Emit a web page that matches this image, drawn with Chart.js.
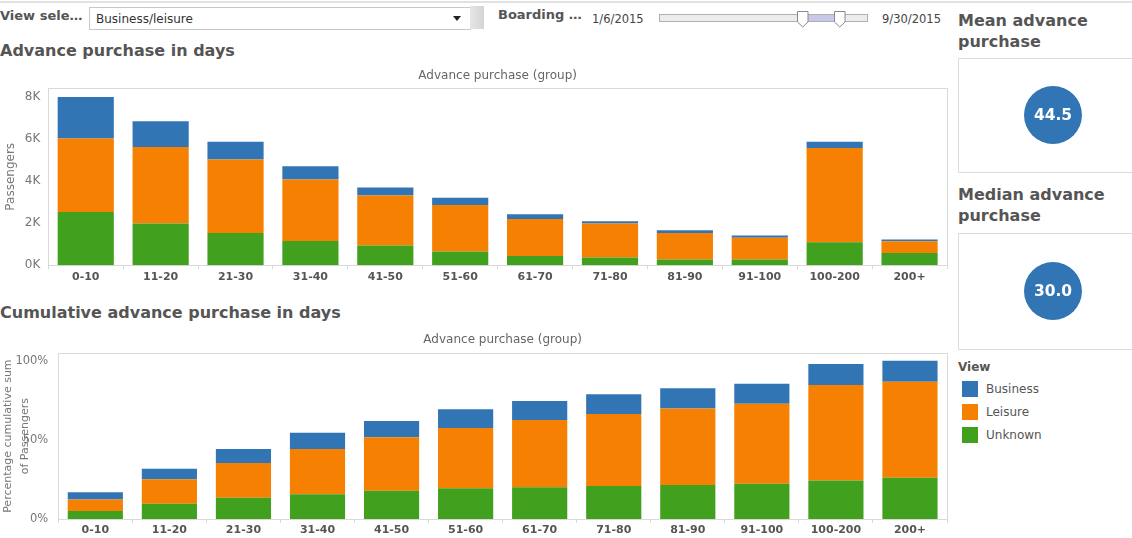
<!DOCTYPE html>
<html><head><meta charset="utf-8">
<script src="https://cdn.jsdelivr.net/npm/chart.js@4.4.1/dist/chart.umd.min.js"></script>
<style>
html,body{margin:0;padding:0;background:#fff;}
body{width:1132px;height:538px;overflow:hidden;position:relative;font-family:"DejaVu Sans",sans-serif;color:#555;}
.abs{position:absolute;white-space:nowrap;}
.h1{font-weight:bold;font-size:16px;color:#555;line-height:21.5px;}
.lbl{font-weight:bold;font-size:13px;line-height:16px;color:#555;}
.small{font-size:11.5px;line-height:14px;color:#444;}
.box{position:absolute;border:1px solid #dcdcdc;background:#fff;}
.sw{position:absolute;width:16px;height:16px;}
.leg{font-size:12px;line-height:16px;color:#555;}
canvas{position:absolute;}
</style></head>
<body>
<div class="abs" style="left:0;top:1px;width:1132px;height:2px;background:#e2e2e2;"></div>
<div class="abs lbl" style="left:0;top:7.5px;">View sele…</div>
<div class="box" style="left:89px;top:7px;width:380px;height:21px;border-color:#c8c8c8;"></div>
<div class="abs" style="left:96px;top:12px;font-size:12px;line-height:14px;color:#333;">Business/leisure</div>
<div class="abs" style="left:453px;top:16px;width:0;height:0;border-left:4.5px solid transparent;border-right:4.5px solid transparent;border-top:5px solid #222;"></div>
<div class="abs" style="left:470px;top:6px;width:14px;height:23px;background:linear-gradient(90deg,#e6e6e6,#d4d4d4);"></div>
<div class="abs lbl" style="left:498px;top:6.5px;">Boarding …</div>
<div class="abs small" style="left:592px;top:11.5px;">1/6/2015</div>
<div class="abs" style="left:659px;top:14px;width:207px;height:6px;border:1px solid #b0b0b0;background:#ececec;"></div>
<div class="abs" style="left:808px;top:15px;width:26px;height:6px;background:#c8c8ea;"></div>
<svg class="abs" style="left:796px;top:10px;" width="14" height="19"><path d="M1.5 1.5 H12 V12 L6.75 17 L1.5 12 Z" fill="#fff" stroke="#8a8a8a" stroke-width="1"/></svg>
<svg class="abs" style="left:833px;top:10px;" width="14" height="19"><path d="M1.5 1.5 H12 V12 L6.75 17 L1.5 12 Z" fill="#fff" stroke="#8a8a8a" stroke-width="1"/></svg>
<div class="abs small" style="left:882px;top:11.5px;">9/30/2015</div>

<div class="abs h1" style="left:0;top:39.5px;">Advance purchase in days</div>
<div class="abs h1" style="left:0;top:301.5px;">Cumulative advance purchase in days</div>

<div class="abs h1" style="left:958px;top:9.5px;">Mean advance<br>purchase</div>
<div class="box" style="left:958px;top:58px;width:200px;height:113px;"></div>
<div class="abs h1" style="left:958px;top:183.5px;">Median advance<br>purchase</div>
<div class="box" style="left:958px;top:233px;width:200px;height:115px;"></div>

<div class="abs" style="left:958px;top:360px;font-weight:bold;font-size:12px;line-height:14px;color:#555;">View</div>
<div class="sw" style="left:962px;top:380.5px;background:#3275b5;"></div>
<div class="abs leg" style="left:986px;top:381px;">Business</div>
<div class="sw" style="left:962px;top:403.5px;background:#f58002;"></div>
<div class="abs leg" style="left:986px;top:404px;">Leisure</div>
<div class="sw" style="left:962px;top:426.5px;background:#42a01f;"></div>
<div class="abs leg" style="left:986px;top:427px;">Unknown</div>

<canvas id="c1" width="950" height="230" style="left:0;top:60px;"></canvas>
<canvas id="c2" width="950" height="213" style="left:0;top:325px;"></canvas>
<canvas id="k1" width="188" height="112" style="left:959px;top:59px;"></canvas>
<canvas id="k2" width="188" height="114" style="left:959px;top:234px;"></canvas>

<script>
const categories = ['0-10','11-20','21-30','31-40','41-50','51-60','61-70','71-80','81-90','91-100','100-200','200+'];
const seriesNames = ['Business','Leisure','Unknown'];
const seriesColors = ['#3275b5','#f58002','#42a01f'];
const passengersUnknown  = [2530,1980,1530,1150,940,660,440,370,270,270,1090,580];
const passengersLeisure  = [3490,3640,3490,2920,2370,2200,1760,1610,1260,1040,4480,560];
const passengersBusiness = [1970,1220,840,630,380,340,220,110,130,110,290,80];
const cumPctUnknown  = [5.0,9.7,13.5,15.6,17.9,19.4,20.0,20.8,21.5,22.3,24.4,26.1];
const cumPctLeisure  = [7.4,15.4,21.9,28.6,33.7,38.1,42.5,45.5,48.4,50.5,60.2,60.6];
const cumPctBusiness = [4.5,6.7,8.8,10.3,10.3,11.8,12.0,12.5,12.7,12.7,13.3,13.3];
const passengerTicks = [0,2000,4000,6000,8000];
const percentTicks = [0,50,100];
const meanAdvancePurchase = [44.5];
const medianAdvancePurchase = [30.0];

Chart.defaults.font.family = 'DejaVu Sans';
Chart.defaults.animation = false;

const framePlugin = {
  id: 'frame',
  beforeDatasetsDraw(chart) {
    const {ctx, chartArea: a} = chart;
    ctx.save();
    ctx.strokeStyle = '#d9d9d9';
    ctx.lineWidth = 1;
    ctx.strokeRect(Math.floor(a.left) + 0.5, Math.floor(a.top) + 0.5, Math.round(a.right - a.left), Math.round(a.bottom - a.top));
    ctx.restore();
  }
};

function barChart(id, u, l, b, cfg) {
  return new Chart(document.getElementById(id), {
    type: 'bar',
    data: {
      labels: categories,
      datasets: [
        {label: seriesNames[2], data: u, backgroundColor: seriesColors[2]},
        {label: seriesNames[1], data: l, backgroundColor: seriesColors[1]},
        {label: seriesNames[0], data: b, backgroundColor: seriesColors[0]}
      ]
    },
    options: {
      responsive: false,
      devicePixelRatio: 1,
      categoryPercentage: 1.0,
      barPercentage: cfg.barPct,
      layout: {padding: {left: 0, right: 3, top: 0, bottom: 0}},
      plugins: {legend: {display: false}, tooltip: {enabled: false}},
      events: [],
      scales: {
        x: {
          stacked: true, offset: true,
          grid: {display: true, drawOnChartArea: false, drawTicks: true, tickLength: 4, color: '#d9d9d9', offset: true},
          border: {display: false},
          ticks: {font: {size: 11, weight: 'bold'}, color: '#555', padding: 1, maxRotation: 0, autoSkip: false},
          afterFit(s) { s.height = cfg.xH; }
        },
        xTop: {
          type: 'category', position: 'top', display: true,
          grid: {display: false, drawTicks: false}, border: {display: false},
          ticks: {display: false},
          title: {display: true, text: 'Advance purchase (group)', font: {size: 12}, color: '#666', padding: {top: cfg.tPad, bottom: 0}},
          afterFit(s) { s.height = 28.3; }
        },
        y: {
          stacked: true, min: 0, max: cfg.max,
          grid: {display: false, drawTicks: false}, border: {display: false},
          afterBuildTicks(s) { s.ticks = cfg.ticks.map(v => ({value: v})); },
          ticks: {font: {size: cfg.tickSize}, color: '#777', padding: cfg.yPad, callback: cfg.fmt},
          title: {display: true, text: cfg.yTitle, font: {size: cfg.yTitleSize, lineHeight: 1.5}, color: '#777', padding: {top: cfg.yTitlePad, bottom: 0}},
          afterFit(s) { s.width = cfg.yW; }
        }
      }
    },
    plugins: [framePlugin]
  });
}

barChart('c1', passengersUnknown, passengersLeisure, passengersBusiness, {
  barPct: 0.75, xH: 24.7, tPad: 9, max: 8400, ticks: passengerTicks,
  tickSize: 12, yPad: 8, fmt: v => (v / 1000) + 'K', yTitle: 'Passengers', yTitleSize: 12, yTitlePad: 2, yW: 48.3
});
barChart('c2', cumPctUnknown, cumPctLeisure, cumPctBusiness, {
  barPct: 0.745, xH: 19, tPad: 8, max: 104.7, ticks: percentTicks,
  tickSize: 11.5, yPad: 10, fmt: v => v + '%', yTitle: ['Percentage cumulative sum', 'of Passengers'], yTitleSize: 11, yTitlePad: 0, yW: 58.3
});

const valueLabel = {
  id: 'valueLabel',
  afterDatasetsDraw(chart) {
    const {ctx} = chart;
    const ds = chart.data.datasets[0];
    chart.getDatasetMeta(0).data.forEach((pt, i) => {
      ctx.save();
      ctx.fillStyle = '#fff';
      ctx.font = 'bold 15.5px "DejaVu Sans"';
      ctx.textAlign = 'center';
      ctx.textBaseline = 'middle';
      ctx.fillText(ds.data[i].toFixed(1), pt.x, pt.y + 1);
      ctx.restore();
    });
  }
};

function kpi(id, vals, name) {
  return new Chart(document.getElementById(id), {
    type: 'line',
    data: {labels: [name], datasets: [{data: vals, showLine: false, clip: false, pointRadius: 29, pointBackgroundColor: seriesColors[0], pointBorderWidth: 0}]},
    options: {
      responsive: false, devicePixelRatio: 1, events: [],
      layout: {padding: 0, autoPadding: false},
      plugins: {legend: {display: false}, tooltip: {enabled: false}},
      scales: {
        x: {display: false, offset: true},
        y: {display: false, min: vals[0] - 1, max: vals[0] + 1}
      }
    },
    plugins: [valueLabel]
  });
}
kpi('k1', meanAdvancePurchase, 'Mean advance purchase');
kpi('k2', medianAdvancePurchase, 'Median advance purchase');
</script>
</body></html>
